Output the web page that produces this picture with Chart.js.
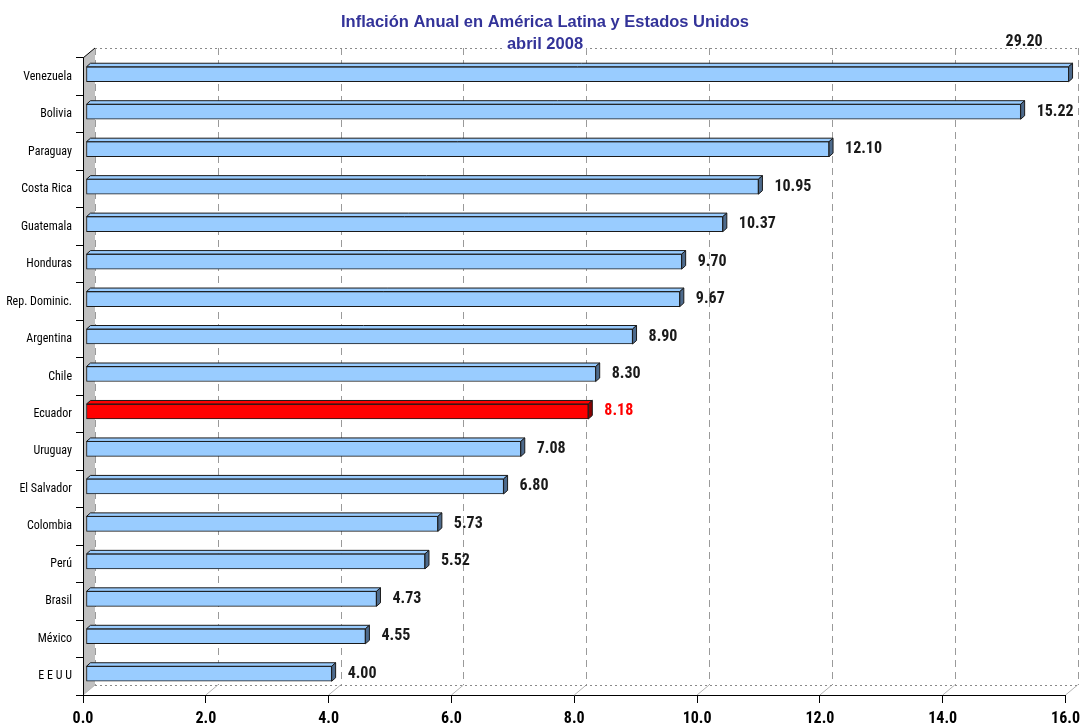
<!DOCTYPE html>
<html>
<head>
<meta charset="utf-8">
<script src="https://cdn.jsdelivr.net/npm/chart.js@4.4.0/dist/chart.umd.min.js"></script>
<style>
html,body{margin:0;padding:0;background:#fff;}
#wrap{width:1086px;height:728px;position:relative;}
</style>
</head>
<body>
<div id="wrap"><canvas id="c" width="1086" height="728"></canvas></div>
<script>
// ---- data ----
const titleLines = ['Inflación Anual en América Latina y Estados Unidos', 'abril 2008'];
const countries = ['Venezuela','Bolivia','Paraguay','Costa Rica','Guatemala','Honduras','Rep. Dominic.','Argentina','Chile','Ecuador','Uruguay','El Salvador','Colombia','Perú','Brasil','México','E E U U'];
const inflation = [29.20,15.22,12.10,10.95,10.37,9.70,9.67,8.90,8.30,8.18,7.08,6.80,5.73,5.52,4.73,4.55,4.00];
const highlighted = ['Ecuador'];
const xAxisMin = 0;
const xAxisMax = 16;
const xAxisStep = 2;

// ---- style ----
const NARROW = "'Roboto Condensed','Open Sans Condensed','DejaVu Sans Condensed',sans-serif";
const BLUE = '#99ccff', BLUE_SIDE = '#4d6a8c';
const RED = '#ff0000', RED_SIDE = '#8c0000';
const WALL = {dx: 12, dy: -10};      // depth of the 3D back wall
const BAR_DEPTH = {dx: 3, dy: -2.5}; // bars sit slightly inside the 3D box
const BAR3D = {dx: 4, dy: -3.5};     // thickness of each 3D bar

const isHi = c => highlighted.includes(c);

const wallPlugin = {
  id: 'wall3d',
  beforeDraw(chart) {
    const {ctx, chartArea: a, scales: {x}} = chart;
    ctx.save();
    // left side wall
    ctx.fillStyle = '#c0c0c0';
    ctx.beginPath();
    ctx.moveTo(a.left, a.top);
    ctx.lineTo(a.left + WALL.dx, a.top + WALL.dy);
    ctx.lineTo(a.left + WALL.dx, a.bottom + WALL.dy);
    ctx.lineTo(a.left, a.bottom);
    ctx.closePath();
    ctx.fill();
    ctx.strokeStyle = '#000';
    ctx.lineWidth = 1;
    ctx.beginPath();
    ctx.moveTo(a.left, a.top);
    ctx.lineTo(a.left + WALL.dx, a.top + WALL.dy);
    ctx.stroke();
    // floor diagonals
    ctx.strokeStyle = '#b4b4b4';
    x.ticks.forEach(t => {
      const px = x.getPixelForValue(t.value);
      ctx.beginPath();
      ctx.moveTo(px, a.bottom);
      ctx.lineTo(px + WALL.dx, a.bottom + WALL.dy);
      ctx.stroke();
    });
    // back wall vertical dashed grid
    ctx.strokeStyle = '#9a9a9a';
    ctx.setLineDash([7, 5]);
    x.ticks.forEach(t => {
      const px = Math.round(x.getPixelForValue(t.value) + WALL.dx) + 0.5;
      ctx.beginPath();
      ctx.moveTo(px, a.top + WALL.dy);
      ctx.lineTo(px, a.bottom + WALL.dy);
      ctx.stroke();
    });
    // back top / bottom dotted edges
    ctx.strokeStyle = '#8a8a8a';
    ctx.setLineDash([2, 3]);
    [a.top + WALL.dy, a.bottom + WALL.dy].forEach(yy => {
      const py = Math.round(yy) + 0.5;
      ctx.beginPath();
      ctx.moveTo(a.left + WALL.dx, py);
      ctx.lineTo(a.right + WALL.dx, py);
      ctx.stroke();
    });
    ctx.restore();
  },
  beforeDatasetsDraw(chart) {
    chart.ctx.save();
    chart.ctx.translate(BAR_DEPTH.dx, BAR_DEPTH.dy);
  },
  afterDatasetsDraw(chart) {
    const {ctx, chartArea: a, scales: {x}} = chart;
    const meta = chart.getDatasetMeta(0);
    const ds = chart.data.datasets[0];
    ctx.lineWidth = 1;
    ctx.strokeStyle = '#1a1a1a';
    meta.data.forEach((el, i) => {
      const p = el.getProps(['x','y','base','height'], true);
      const top = p.y - p.height / 2, bottom = p.y + p.height / 2;
      const x0 = p.base;
      const x1 = Math.min(p.x, a.right);
      const hi = isHi(chart.data.labels[i]);
      // top face
      ctx.fillStyle = hi ? RED : BLUE;
      ctx.beginPath();
      ctx.moveTo(x0, top);
      ctx.lineTo(x0 + BAR3D.dx, top + BAR3D.dy);
      ctx.lineTo(x1 + BAR3D.dx, top + BAR3D.dy);
      ctx.lineTo(x1, top);
      ctx.closePath();
      ctx.fill(); ctx.stroke();
      // side face
      ctx.fillStyle = hi ? RED_SIDE : BLUE_SIDE;
      ctx.beginPath();
      ctx.moveTo(x1, top);
      ctx.lineTo(x1 + BAR3D.dx, top + BAR3D.dy);
      ctx.lineTo(x1 + BAR3D.dx, bottom + BAR3D.dy);
      ctx.lineTo(x1, bottom);
      ctx.closePath();
      ctx.fill(); ctx.stroke();
      // value label
      const v = ds.data[i];
      ctx.font = 'bold 16px ' + NARROW;
      ctx.fillStyle = hi ? '#ff0000' : '#1a1a1a';
      ctx.textBaseline = 'middle';
      if (v > x.max) {
        ctx.textAlign = 'right';
        ctx.fillText(v.toFixed(2), a.right - 26, a.top + WALL.dy - 4);
      } else {
        ctx.textAlign = 'left';
        ctx.fillText(v.toFixed(2), x1 + BAR3D.dx + 12, p.y);
      }
    });
    ctx.restore();
  },
  afterDraw(chart) {
    const {ctx} = chart;
    ctx.save();
    ctx.font = 'bold 16.5px "Liberation Sans",Arial,sans-serif';
    ctx.textAlign = 'center';
    ctx.textBaseline = 'middle';
    const cx = 545;
    const w2 = ctx.measureText(titleLines[1]).width;
    ctx.fillStyle = '#fff';
    ctx.fillRect(cx - w2 / 2 - 3, 36, w2 + 6, 15);
    ctx.fillStyle = '#333399';
    ctx.fillText(titleLines[0], cx, 22);
    ctx.fillText(titleLines[1], cx, 44);
    ctx.restore();
  }
};

new Chart(document.getElementById('c'), {
  type: 'bar',
  data: {
    labels: countries,
    datasets: [{
      data: inflation,
      backgroundColor: countries.map(c => isHi(c) ? RED : BLUE),
      borderColor: '#1a1a1a',
      borderWidth: 1,
      borderSkipped: false,
      barThickness: 15,
      clip: {left: 0, top: 0, right: 0, bottom: 0}
    }]
  },
  options: {
    responsive: false,
    animation: false,
    indexAxis: 'y',
    layout: {padding: {top: 58, right: 16, left: 0, bottom: 0}},
    plugins: {legend: {display: false}, tooltip: {enabled: false}, title: {display: false}},
    scales: {
      x: {
        min: xAxisMin, max: xAxisMax,
        ticks: {stepSize: xAxisStep, callback: v => Number(v).toFixed(1), color: '#000',
                font: {family: NARROW, size: 16, weight: 'bold'}, padding: 6, maxRotation: 0, autoSkip: false},
        grid: {drawOnChartArea: false, drawTicks: true, tickLength: 8, color: '#000'},
        border: {color: '#000'},
        afterFit: s => { s.height = 33; }
      },
      y: {
        ticks: {color: '#000', font: {family: NARROW, size: 12}, padding: 4, autoSkip: false},
        grid: {drawOnChartArea: false, drawTicks: true, tickLength: 7, color: '#000', offset: true},
        border: {color: '#000'},
        afterFit: s => { s.width = 83; }
      }
    }
  },
  plugins: [wallPlugin]
});
</script>
</body>
</html>
